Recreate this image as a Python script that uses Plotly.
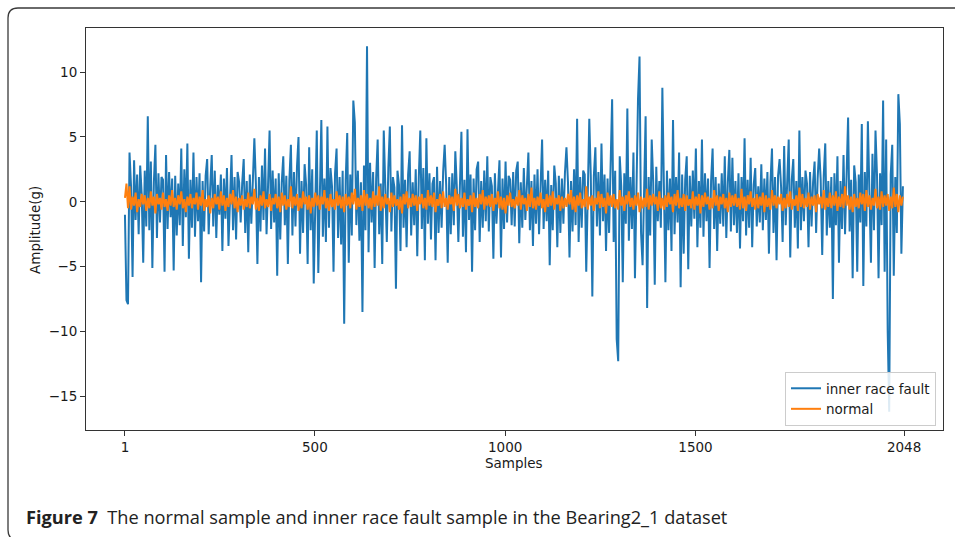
import plotly.graph_objects as go

# ---------------- data (every 4th sample) ----------------
sample_step = 4
inner_race_fault = [
    -1.0, -7.6, -7.9, 3.8, 1.2, -5.8, 3.2, -1.4, 2.1, -2.5, 2.8, 0.6, -4.7, 2.4, -1.9, 6.6,
    -2.2, 3.1, -5.1, 1.5, 4.4, -2.8, 2.2, -1.6, 1.9, 1.7, -5.4, 3.6, -2.1, 2.3, -1.2, 1.8,
    -5.3, 2.0, -2.6, 1.4, -1.8, 4.1, -3.4, 2.5, -1.2, 4.5, -4.4, 1.7, -2.0, 3.8, -2.7, 1.9,
    -1.5, 2.2, -6.2, 1.6, -2.3, 2.0, 3.3, -2.5, 1.1, 3.6, -1.9, 2.4, -2.8, 1.3, -1.0, 2.1,
    -3.8, 1.8, -1.3, 2.6, -3.4, 1.2, 3.6, -2.2, 1.9, -2.9, 2.3, 1.5, -1.6, 1.4, 3.3, -2.4,
    1.6, -3.9, 2.1, -1.7, 2.6, 4.9, 1.4, -4.8, 1.9, -2.3, 2.8, -1.4, 4.1, -2.5, 1.3, 5.5,
    -2.1, 2.4, -1.6, 1.8, -5.7, 2.2, -2.9, 1.5, 3.5, -1.8, 2.0, -4.8, 1.7, 4.4, -2.6, 2.3,
    -1.9, 2.7, 5.0, -4.0, 1.6, -2.4, 2.9, 1.3, -4.8, 4.2, -2.2, 2.5, -6.3, 1.4, 5.5, -5.5,
    2.0, 6.3, -2.7, 1.8, -3.1, 5.8, -2.0, 2.6, 1.2, -5.4, 2.2, 4.1, -2.8, 1.9, -3.3, 2.4,
    -9.4, 1.7, 5.3, -4.7, 2.1, -2.6, 7.8, 6.1, -1.8, 2.4, -3.0, 1.5, -8.5, 2.8, -2.2, 12.0,
    -3.9, 3.0, -1.6, 2.3, -5.1, 1.8, 4.8, -2.5, 1.4, -4.8, 5.5, 1.6, -3.1, 2.6, 5.8, -2.3,
    1.9, 1.1, -6.7, 2.4, 1.3, -3.8, 5.9, -2.0, 1.7, -3.5, 2.1, 3.9, -2.6, 1.5, -1.8, 2.5,
    -4.2, 1.8, 5.5, -2.1, 2.6, -4.5, 4.9, -1.7, 2.2, -2.9, 1.4, 1.9, -4.5, 2.7, -2.4, 1.6,
    -2.0, 2.3, 4.4, 1.3, -4.7, 1.9, -2.5, 2.2, -1.8, 3.9, 1.1, -3.1, 2.0, 5.4, -2.7, 1.7,
    -3.9, 5.6, -1.4, 2.1, -5.4, 1.8, -2.2, 2.5, 3.1, -3.1, 1.6, -2.0, 2.4, -1.5, 3.5, -2.3,
    1.9, 1.2, -4.4, 2.2, -1.7, 1.5, 3.2, -4.3, 1.8, -2.1, 3.1, -1.6, 2.0, 1.7, -1.8, 2.3,
    -1.9, 2.4, 3.1, -3.2, 1.5, -2.0, 2.6, -1.4, 1.8, 3.8, -2.2, 1.6, -3.4, 2.1, -1.7, 2.5,
    -2.5, 1.9, 4.8, -2.1, 1.7, -1.5, 2.4, -4.9, 1.3, -2.2, 2.8, 1.4, -3.5, 2.0, -2.4, 1.8,
    -1.7, 2.2, 4.2, 1.5, -4.3, 1.6, -2.3, 2.5, -1.8, 6.4, -3.1, 1.9, -2.0, 2.4, 2.1, -5.4,
    1.7, 6.4, 1.9, -7.3, 2.0, 4.2, -1.9, 2.3, -2.6, 4.5, -1.5, 2.1, -3.8, 1.8, -2.4, 2.6,
    7.9, -3.1, 2.4, -10.6, -12.3, 3.5, 1.2, -6.2, 2.2, -1.7, 7.2, -3.0, 1.9, -2.1, 3.8, -5.9,
    2.3, 7.9, 11.2, -2.4, -4.9, 2.0, 6.6, -8.2, 1.9, -2.6, 4.8, 1.5, -6.4, 2.7, -1.5, 1.6,
    -2.0, 8.8, 1.4, -6.2, 2.4, -2.2, 1.8, -3.8, 6.3, -2.5, 1.9, -1.6, 3.8, -6.6, 2.1, -4.0,
    1.7, 3.5, -5.2, 2.0, -1.9, 2.4, -1.3, 4.1, -3.5, 1.6, -2.0, 4.8, -2.7, 2.2, -1.5, 1.8,
    -5.1, 1.6, 4.1, -2.1, 1.9, -3.8, 1.4, -1.7, 2.2, -1.9, 3.5, -2.8, 1.5, 4.0, -2.3, 3.4,
    -1.8, 1.6, -2.4, 2.2, -3.6, 1.9, -1.5, 4.9, -2.6, 1.7, -2.0, 3.4, -3.5, 1.3, 2.6, -1.9,
    1.2, -1.6, 2.9, -2.2, 1.8, -1.4, 2.3, -4.0, 1.5, 4.1, -2.4, 1.9, -4.5, 2.0, 3.3, 1.1,
    -3.1, 4.3, -1.8, 2.2, 4.8, -4.3, 1.7, 3.3, -2.0, 1.6, -3.6, 5.5, -2.2, 1.9, -1.5, 2.4,
    1.4, -3.5, 2.3, -1.9, 1.5, 3.1, -2.4, 1.8, 4.1, 1.7, -4.1, 2.0, 4.5, -2.6, 1.6, -2.0,
    1.9, -7.5, 2.2, -1.8, 3.5, -4.7, 1.6, -2.1, 3.6, -2.5, 1.8, 6.5, -2.3, 1.7, -5.9, 2.8,
    1.5, -5.4, 2.1, -1.6, 6.0, -6.5, 2.3, -1.9, 6.2, 1.8, -4.7, 3.7, -2.2, 5.5, 2.0, -5.9,
    2.2, -1.8, 7.8, -5.4, 4.8, -9.9, -16.2, 2.1, 4.4, -5.7, 1.9, -2.4, 8.3, 6.0, -4.0, 1.2,
]
normal = [
    0.3, 1.4, -0.5, 1.2, -0.6, 0.4, -0.3, 0.7, -0.8, 0.2, -0.4, 0.6, -0.2, 0.5, -0.7, 0.3,
    -0.5, 0.8, -0.3, 0.4, -0.9, 0.6, -0.2, 0.3, -0.6, 0.7, -0.4, 0.2, -0.7, 0.5, -0.3, 0.9,
    -0.4, 0.3, -0.6, 0.5, -0.2, 0.8, -0.5, 0.2, -0.8, 0.4, -0.3, 0.6, -0.5, 0.3, -0.2, 0.7,
    -0.6, 0.4, -0.3, 0.9, -0.7, 0.2, -0.4, 0.5, -0.9, 0.3, -0.5, 0.6, -0.2, 0.4, -0.6, 0.8,
    -0.3, 0.5, -0.7, 0.3, -0.4, 0.6, -0.2, 0.9, -0.5, 0.4, -0.8, 0.3, -0.3, 0.5, -0.6, 0.2,
    -0.4, 0.7, -0.5, 0.4, -0.2, 1.0, -0.6, 0.3, -0.7, 0.5, -0.3, 0.8, -0.5, 0.2, -0.4, 0.6,
    -0.7, 0.3, -0.2, 0.6, -0.5, 0.4, -0.8, 0.7, -0.3, 0.5, -0.6, 0.2, -0.4, 1.2, -0.5, 0.4,
    -0.3, 0.6, -0.7, 0.3, -0.5, 0.8, -0.2, 0.4, -0.6, 0.5, -0.9, 0.3, -0.4, 0.7, -0.3, 0.5,
    -0.6, 0.4, -0.2, 0.9, -0.5, 0.3, -0.7, 0.6, -0.4, 0.2, -0.6, 0.8, -0.3, 0.5, -0.5, 0.4,
    -0.8, 0.6, -0.3, 0.4, -0.5, 0.7, -0.2, 1.0, -0.6, 0.3, -0.4, 0.5, -0.7, 0.9, -0.3, 0.6,
    -0.5, 0.3, -0.6, 0.8, -0.4, 0.5, -0.3, 1.2, -0.7, 0.4, -0.5, 0.6, -0.2, 0.3, -0.8, 0.7,
    -0.4, 0.5, -0.3, 0.2, -0.6, 0.4, -0.9, 0.6, -0.2, 0.8, -0.5, 0.3, -0.4, 0.6, -0.3, 0.5,
    -0.7, 0.4, -0.2, 0.6, -0.5, 0.3, -0.6, 0.9, -0.3, 0.5, -0.4, 0.7, -0.8, 0.2, -0.3, 0.6,
    -0.5, 0.8, -0.4, 0.3, -0.6, 0.5, -0.2, 0.4, -0.7, 1.0, -0.3, 0.6, -0.5, 0.3, -0.4, 0.7,
    -0.6, 0.2, -0.3, 0.5, -0.8, 0.7, -0.4, 0.3, -0.5, 0.6, -0.2, 0.9, -0.6, 0.4, -0.3, 0.5,
    -0.4, 0.6, -0.7, 0.3, -0.2, 0.8, -0.5, 0.4, -0.6, 0.3, -0.9, 0.5, -0.3, 0.7, -0.4, 0.2,
    -0.5, 0.4, -0.3, 0.9, -0.6, 0.5, -0.2, 0.3, -0.7, 0.6, -0.4, 1.1, -0.5, 0.3, -0.6, 0.4,
    -0.3, 0.7, -0.5, 0.2, -0.8, 0.6, -0.4, 0.5, -0.3, 0.8, -0.6, 0.3, -0.2, 0.5, -0.7, 0.4,
    -0.5, 0.3, -0.4, 0.6, -0.2, 0.9, -0.6, 0.4, -0.8, 0.5, -0.3, 0.7, -0.5, 0.2, -0.4, 1.2,
    -0.6, 0.4, -0.3, 0.5, -0.7, 0.3, -0.2, 0.8, -0.5, 0.6, -0.4, 0.3, -0.9, 0.7, -0.3, 0.5,
    -0.4, 0.6, -0.5, 0.2, -0.6, 0.9, -0.3, 0.4, -0.7, 0.5, -0.2, 0.8, -0.4, 0.3, -0.6, 0.5,
    -0.3, 0.7, -0.8, 0.4, -0.5, 0.3, -0.4, 1.0, -0.6, 0.5, -0.3, 0.6, -0.2, 0.4, -0.7, 0.8,
    -0.5, 0.3, -0.6, 0.5, -0.4, 0.7, -0.2, 0.4, -0.8, 0.6, -0.3, 0.9, -0.5, 0.3, -0.4, 0.6,
    -0.7, 0.5, -0.3, 0.2, -0.5, 0.8, -0.6, 0.4, -0.3, 0.6, -0.9, 0.5, -0.4, 0.7, -0.2, 0.4,
    -0.6, 0.3, -0.5, 0.9, -0.3, 0.5, -0.7, 0.4, -0.2, 0.6, -0.5, 0.3, -0.8, 0.7, -0.4, 0.5,
    -0.3, 0.6, -0.4, 0.3, -0.6, 1.0, -0.5, 0.4, -0.7, 0.5, -0.2, 0.8, -0.4, 0.3, -0.6, 0.6,
    -0.5, 0.4, -0.3, 0.7, -0.8, 0.5, -0.4, 0.3, -0.6, 0.9, -0.3, 0.5, -0.5, 0.4, -0.2, 0.6,
    -0.7, 0.3, -0.5, 0.6, -0.4, 0.8, -0.6, 0.2, -0.3, 0.5, -0.7, 1.1, -0.4, 0.6, -0.5, 0.3,
    -0.4, 0.7, -0.6, 0.4, -0.3, 0.5, -0.8, 0.6, -0.2, 0.4, -0.5, 0.9, -0.6, 0.3, -0.4, 0.7,
    -0.5, 0.5, -0.3, 0.8, -0.7, 0.4, -0.4, 0.6, -0.5, 1.2, -0.3, 0.5, -0.6, 0.4, -0.8, 0.6,
    -0.4, 0.3, -0.5, 0.7, -0.2, 0.6, -0.7, 0.9, -0.4, 0.5, -0.6, 0.3, -0.3, 1.0, -0.5, 0.4,
    -0.6, 0.8, -0.4, 0.5, -0.3, 0.6, -0.7, 0.4, -0.5, 1.1, -0.4, 0.6, -0.8, 0.5, -0.3, 0.4,
]
x_tick_vals = [1, 500, 1000, 1500, 2048]
x_tick_text = ["1", "500", "1000", "1500", "2048"]
y_tick_vals = [-15, -10, -5, 0, 5, 10]
y_tick_text = ["\u221215", "\u221210", "\u22125", "0", "5", "10"]
series_names = ["inner race fault", "normal"]
x_title = "Samples"
y_title = "Amplitude(g)"
caption_bold = "Figure 7"
caption_rest = "The normal sample and inner race fault sample in the Bearing2_1 dataset"

samples_fault = [1 + sample_step * i for i in range(len(inner_race_fault))]
samples_normal = [1 + sample_step * i for i in range(len(normal))]

# ---------------- layout geometry (pixels) ----------------
W, H = 955, 537
L, R, T, B = 86, 943, 28, 430
pw, ph = R - L, B - T


def px(x):
    return (x - L) / pw


def py(y):
    return (B - y) / ph


FONT = "DejaVu Sans"
FS = 13.5
TXT = "#1a1a1a"

fig = go.Figure()
fig.add_trace(go.Scatter(x=samples_fault, y=inner_race_fault, mode="lines",
                         name=series_names[0], line=dict(color="#1f77b4", width=2)))
fig.add_trace(go.Scatter(x=samples_normal, y=normal, mode="lines",
                         name=series_names[1], line=dict(color="#ff7f0e", width=2)))

axis_common = dict(showgrid=False, zeroline=False, showline=True, linecolor="#333333",
                   linewidth=1, mirror=True, ticks="outside", ticklen=5, tickwidth=1,
                   tickcolor="#333333", tickfont=dict(family=FONT, size=FS, color=TXT))

fig.update_xaxes(range=[-101.35, 2150.35], tickmode="array", tickvals=x_tick_vals,
                 ticktext=x_tick_text, **axis_common)
fig.update_yaxes(range=[-17.6, 13.4], tickmode="array", tickvals=y_tick_vals,
                 ticktext=y_tick_text, **axis_common)

annotations = [
    dict(text=x_title, x=px(514), y=py(463), xref="paper", yref="paper",
         xanchor="center", yanchor="middle", showarrow=False,
         font=dict(family=FONT, size=FS, color=TXT)),
    dict(text=y_title, x=px(35), y=py(230), xref="paper", yref="paper",
         xanchor="center", yanchor="middle", showarrow=False, textangle=-90,
         font=dict(family=FONT, size=FS, color=TXT)),
    dict(text="<b>" + caption_bold + "</b>  " + caption_rest, x=px(24), y=py(517),
         xref="paper", yref="paper", xanchor="left", yanchor="middle", showarrow=False,
         font=dict(family="Open Sans", size=18.2, color="#222222")),
]

# figure frame with rounded corners (open on the right, bottom just below the page)
x0, y0, r = 8, 8, 10
x_far, y_far = 970, 540
frame_path = (f"M {px(x_far)},{py(y0)} L {px(x0 + r)},{py(y0)} "
              f"Q {px(x0)},{py(y0)} {px(x0)},{py(y0 + r)} "
              f"L {px(x0)},{py(y_far - r)} Q {px(x0)},{py(y_far)} {px(x0 + r)},{py(y_far)} "
              f"L {px(x_far)},{py(y_far)}")
shapes = [dict(type="path", path=frame_path, xref="paper", yref="paper",
               line=dict(color="#3a3a3a", width=1.3))]

fig.update_layout(
    width=W, height=H, autosize=False,
    margin=dict(l=L, r=W - R, t=T, b=H - B, pad=0),
    paper_bgcolor="white", plot_bgcolor="white",
    showlegend=True,
    legend=dict(x=px(936), y=py(426), xanchor="right", yanchor="bottom",
                bgcolor="rgba(255,255,255,0.85)", bordercolor="#cccccc", borderwidth=1,
                font=dict(family=FONT, size=FS, color=TXT), tracegroupgap=0,
                itemwidth=30),
    annotations=annotations,
    shapes=shapes,
)

fig.write_html("out.html")
